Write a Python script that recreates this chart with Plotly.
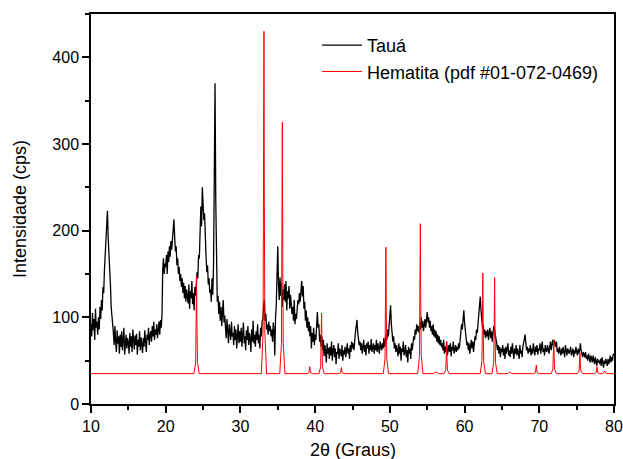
import numpy as np
import plotly.graph_objects as go

# --- Sample "Tauá": intensity (cps) every 0.1 deg 2theta, from 10.0 to 80.0 ---
taua_start = 10.0
taua_step = 0.1
taua_y = [
    92, 78, 105, 85, 98, 74, 110, 88, 95, 80,        # 10
    100, 86, 112, 98, 120, 108, 135, 128, 155, 170,  # 11
    188, 200, 223, 192, 176, 148, 138, 112, 104, 88, # 12
    82, 68, 90, 72, 60, 85, 70, 78, 58, 80,          # 13
    66, 84, 62, 75, 88, 57, 72, 80, 64, 76,          # 14
    70, 58, 82, 66, 78, 60, 86, 71, 63, 79,          # 15
    68, 81, 57, 74, 66, 84, 62, 77, 70, 59,          # 16
    76, 66, 85, 72, 60, 80, 74, 88, 68, 79,          # 17
    84, 72, 90, 78, 95, 74, 86, 80, 92, 76,          # 18
    86, 95, 80, 97, 88, 102, 155, 168, 150, 162,     # 19
    158, 172, 150, 176, 164, 182, 170, 188, 178, 195,# 20
    198, 213, 192, 176, 182, 160, 168, 150, 158, 142,# 21
    150, 135, 145, 128, 140, 122, 136, 118, 132, 125,# 22
    116, 138, 110, 130, 122, 142, 115, 128, 108, 135,# 23
    125, 140, 152, 145, 172, 168, 195, 228, 205, 250,# 24
    232, 212, 220, 185, 170, 152, 160, 138, 145, 128,# 25
    132, 118, 145, 126, 160, 262, 370, 235, 140, 118,# 26
    125, 104, 118, 96, 112, 90, 106, 120, 94, 102,   # 27
    88, 76, 98, 80, 70, 92, 84, 74, 95, 78,          # 28
    82, 68, 90, 74, 86, 64, 79, 92, 70, 84,          # 29
    72, 88, 66, 80, 94, 70, 78, 62, 85, 74,          # 30
    90, 68, 82, 76, 60, 86, 72, 96, 70, 80,          # 31
    66, 84, 74, 92, 70, 80, 64, 88, 78, 95,          # 32
    98, 112, 120, 96, 104, 86, 92, 80, 95, 84,       # 33
    90, 78, 86, 72, 94, 84, 56, 100, 115, 150,       # 34
    182, 138, 120, 146, 125, 140, 112, 132, 120, 138,# 35
    118, 142, 108, 130, 122, 136, 110, 126, 118, 104,# 36
    112, 96, 120, 92, 104, 98, 110, 120, 115, 128,   # 37
    118, 130, 142, 124, 136, 110, 118, 96, 108, 88,  # 38
    100, 84, 95, 78, 90, 64, 82, 72, 88, 68,         # 39
    80, 74, 96, 106, 88, 92, 72, 80, 66, 78,         # 40
    62, 74, 55, 68, 60, 48, 70, 58, 65, 52,          # 41
    66, 56, 72, 50, 62, 68, 54, 64, 46, 60,          # 42
    58, 70, 52, 64, 60, 55, 68, 50, 62, 57,          # 43
    66, 54, 62, 70, 58, 64, 52, 68, 60, 72,          # 44
    64, 70, 62, 78, 84, 90, 97, 82, 76, 68,          # 45
    72, 62, 70, 58, 66, 74, 60, 68, 56, 70,          # 46
    64, 72, 58, 68, 62, 75, 60, 66, 70, 58,          # 47
    68, 62, 74, 60, 70, 64, 58, 72, 66, 62,          # 48
    70, 64, 76, 66, 72, 80, 74, 86, 78, 92,          # 49
    96, 114, 92, 84, 72, 78, 64, 70, 60, 68,         # 50
    62, 55, 70, 58, 66, 50, 64, 60, 72, 56,          # 51
    60, 68, 54, 62, 48, 66, 58, 64, 52, 70,          # 52
    62, 70, 78, 74, 86, 80, 92, 84, 90, 82,          # 53
    94, 86, 100, 88, 96, 84, 92, 98, 88, 102,        # 54
    106, 94, 100, 88, 96, 84, 90, 80, 92, 78,        # 55
    86, 76, 84, 72, 80, 70, 78, 68, 74, 66,          # 56
    70, 62, 74, 58, 66, 60, 72, 56, 64, 68,          # 57
    60, 70, 55, 66, 62, 72, 58, 64, 68, 60,          # 58
    66, 62, 70, 64, 74, 82, 92, 86, 100, 108,        # 59
    94, 84, 76, 68, 72, 62, 70, 58, 66, 74,          # 60
    64, 72, 60, 70, 78, 74, 86, 82, 96, 104,         # 61
    116, 124, 108, 96, 88, 92, 80, 86, 76, 84,       # 62
    78, 86, 74, 82, 88, 76, 84, 72, 80, 90,          # 63
    86, 82, 76, 70, 62, 68, 58, 66, 54, 64,          # 64
    60, 68, 56, 64, 52, 66, 58, 62, 70, 56,          # 65
    62, 54, 66, 58, 70, 60, 52, 64, 58, 68,          # 66
    56, 64, 60, 52, 68, 58, 62, 54, 66, 72,          # 67
    76, 80, 70, 62, 66, 58, 64, 60, 68, 56,          # 68
    64, 58, 70, 62, 56, 66, 60, 68, 57, 64,          # 69
    62, 70, 58, 66, 72, 60, 64, 56, 68, 62,          # 70
    60, 68, 64, 58, 66, 72, 62, 70, 74, 68,          # 71
    74, 70, 66, 72, 60, 64, 58, 66, 62, 56,          # 72
    64, 58, 66, 60, 54, 68, 62, 56, 64, 60,          # 73
    58, 62, 66, 56, 60, 64, 54, 62, 58, 66,          # 74
    60, 56, 64, 58, 62, 70, 62, 58, 54, 60,          # 75
    58, 54, 60, 52, 56, 50, 58, 54, 48, 56,          # 76
    52, 48, 56, 50, 46, 54, 50, 44, 52, 48,          # 77
    50, 46, 52, 44, 54, 48, 42, 50, 46, 52,          # 78
    48, 44, 52, 46, 50, 56, 48, 54, 50, 58,          # 79
    56,                                              # 80
]
taua_x = np.round(taua_start + taua_step * np.arange(len(taua_y)), 2)

# --- Reference pattern "Hematita (pdf #01-072-0469)" ---
hem_x = [
    10.0,
    23.78, 24.01, 24.08, 24.13, 24.18, 24.25, 24.48,
    32.80, 33.03, 33.10, 33.15, 33.20, 33.27, 33.50,
    35.26, 35.49, 35.56, 35.61, 35.66, 35.73, 35.96,
    38.93, 39.16, 39.23, 39.28, 39.33, 39.40, 39.63,
    40.51, 40.74, 40.81, 40.86, 40.91, 40.98, 41.21,
    43.17, 43.40, 43.47, 43.52, 43.57, 43.64, 43.87,
    49.12, 49.35, 49.42, 49.47, 49.52, 49.59, 49.82,
    53.73, 53.96, 54.03, 54.08, 54.13, 54.20, 54.43,
    55.80, 56.15, 56.50,
    57.24, 57.47, 57.54, 57.59, 57.64, 57.71, 57.94,
    62.09, 62.32, 62.39, 62.44, 62.49, 62.56, 62.79,
    63.67, 63.90, 63.97, 64.02, 64.07, 64.14, 64.37,
    65.80, 66.03, 66.30,
    69.25, 69.48, 69.55, 69.60, 69.65, 69.72, 69.95,
    71.59, 71.82, 71.89, 71.94, 71.99, 72.06, 72.29,
    75.09, 75.32, 75.39, 75.44, 75.49, 75.56, 75.79,
    77.38, 77.61, 77.68, 77.73, 77.78, 77.85, 78.08,
    78.50, 78.76, 79.00,
    80.0,
]
hem_y = [
    35,
    35, 48, 91, 147, 91, 48, 35,
    35, 82, 232, 430, 232, 82, 35,
    35, 70, 180, 325, 180, 70, 35,
    35, 36, 39, 43, 39, 36, 35,
    35, 43, 70, 105, 70, 43, 35,
    35, 36, 38, 42, 38, 36, 35,
    35, 52, 108, 181, 108, 52, 35,
    35, 56, 121, 208, 121, 56, 35,
    35, 37, 35,
    35, 39, 53, 72, 53, 39, 35,
    35, 49, 93, 151, 93, 49, 35,
    35, 48, 90, 146, 90, 48, 35,
    35, 37, 35,
    35, 36, 40, 45, 40, 36, 35,
    35, 40, 54, 74, 54, 40, 35,
    35, 38, 47, 59, 47, 38, 35,
    35, 36, 39, 43, 39, 36, 35,
    35, 38, 35,
    35,
]

x_ticks = [10, 20, 30, 40, 50, 60, 70, 80]
y_ticks = [0, 100, 200, 300, 400]

FONT = "Arial, 'Liberation Sans', Helvetica, sans-serif"

fig = go.Figure()
fig.add_trace(go.Scatter(x=taua_x, y=taua_y, mode="lines", name="Tauá",
                         line=dict(color="#000000", width=1.3)))
fig.add_trace(go.Scatter(x=hem_x, y=hem_y, mode="lines",
                         name="Hematita (pdf #01-072-0469)",
                         line=dict(color="#ff0000", width=1)))

axis_common = dict(showline=True, linecolor="#000000", linewidth=1.5, mirror=True,
                   ticks="outside", ticklen=7, tickwidth=1.5, tickcolor="#000000",
                   showgrid=False, zeroline=False, automargin=False,
                   tickfont=dict(family=FONT, size=16, color="#000000"))

fig.update_xaxes(range=[10, 80], tickvals=x_ticks,
                 minor=dict(ticks="outside", ticklen=4, tickwidth=1.5, tickcolor="#000000", dtick=5, tick0=10),
                 **axis_common)
fig.update_yaxes(range=[0, 450], tickvals=y_ticks,
                 minor=dict(ticks="outside", ticklen=4, tickwidth=1.5, tickcolor="#000000", dtick=50, tick0=0),
                 **axis_common)

fig.update_layout(annotations=[
    dict(text="2θ (Graus)", xref="paper", yref="paper", x=0.5, y=0, yshift=-46,
         xanchor="center", yanchor="middle", showarrow=False,
         font=dict(family=FONT, size=18, color="#000000")),
    dict(text="Intensidade (cps)", xref="paper", yref="paper", x=0, y=0.5, xshift=-71,
         xanchor="center", yanchor="middle", textangle=-90, showarrow=False,
         font=dict(family=FONT, size=18, color="#000000")),
])

fig.update_layout(
    width=623, height=459,
    margin=dict(l=91, r=9, t=14, b=55),
    paper_bgcolor="white", plot_bgcolor="white",
    showlegend=True,
    legend=dict(x=0.432, y=0.967, xanchor="left", yanchor="top",
                bgcolor="rgba(0,0,0,0)", borderwidth=0,
                font=dict(family=FONT, size=18, color="#000000"),
                tracegroupgap=0, itemwidth=40),
)

fig.write_html("out.html", config={"displayModeBar": False},
               post_script="document.body.style.margin='0';document.body.style.padding='0';")
